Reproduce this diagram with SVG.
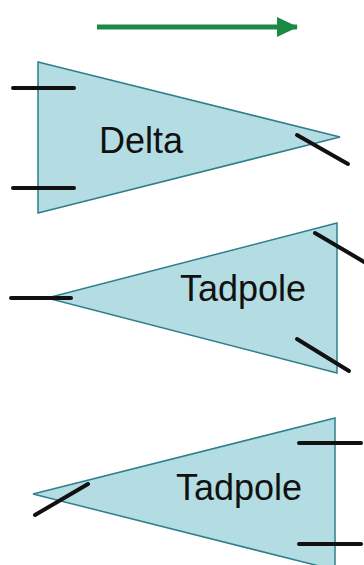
<svg xmlns="http://www.w3.org/2000/svg" width="364" height="565" viewBox="0 0 364 565">
<defs>
<marker id="ah" markerUnits="userSpaceOnUse" markerWidth="22" markerHeight="22" refX="20" refY="11" orient="auto" viewBox="0 0 22 22">
<path d="M0,1 L21,11 L0,21 Z" fill="#1b8a45"/>
</marker>
<style>
.tri{fill:#b3dce3;stroke:#2f7f8c;stroke-width:1.5;stroke-linejoin:miter}
.bar{stroke:#111;stroke-width:4;stroke-linecap:round}
.lbl{font-family:"Liberation Sans",Arial,sans-serif;font-size:36px;fill:#111;text-anchor:middle}
</style>
</defs>
<rect width="364" height="565" fill="#fff"/>
<g id="connectors">
<line x1="97" y1="27" x2="297" y2="27" stroke="#1b8a45" stroke-width="5" marker-end="url(#ah)"/>
</g>
<g id="delta">
<polygon class="tri" points="38,62 340,137 38,213"/>
<line class="bar" x1="13" y1="88" x2="74" y2="88"/>
<line class="bar" x1="13" y1="188" x2="74" y2="188"/>
<line class="bar" x1="297" y1="135" x2="348" y2="164"/>
<text class="lbl" x="141" y="153">Delta</text>
</g>
<g id="tadpole1">
<polygon class="tri" points="337,223 337,373 47,298"/>
<line class="bar" x1="11" y1="298" x2="71" y2="298"/>
<line class="bar" x1="315" y1="233" x2="366" y2="263"/>
<line class="bar" x1="297" y1="339" x2="349" y2="371"/>
<text class="lbl" x="243" y="301">Tadpole</text>
</g>
<g id="tadpole2">
<polygon class="tri" points="335,418 335,570 33,494"/>
<line class="bar" x1="299" y1="443" x2="361" y2="443"/>
<line class="bar" x1="299" y1="544" x2="361" y2="544"/>
<line class="bar" x1="35" y1="515" x2="88" y2="484"/>
<text class="lbl" x="239" y="500">Tadpole</text>
</g>
</svg>
